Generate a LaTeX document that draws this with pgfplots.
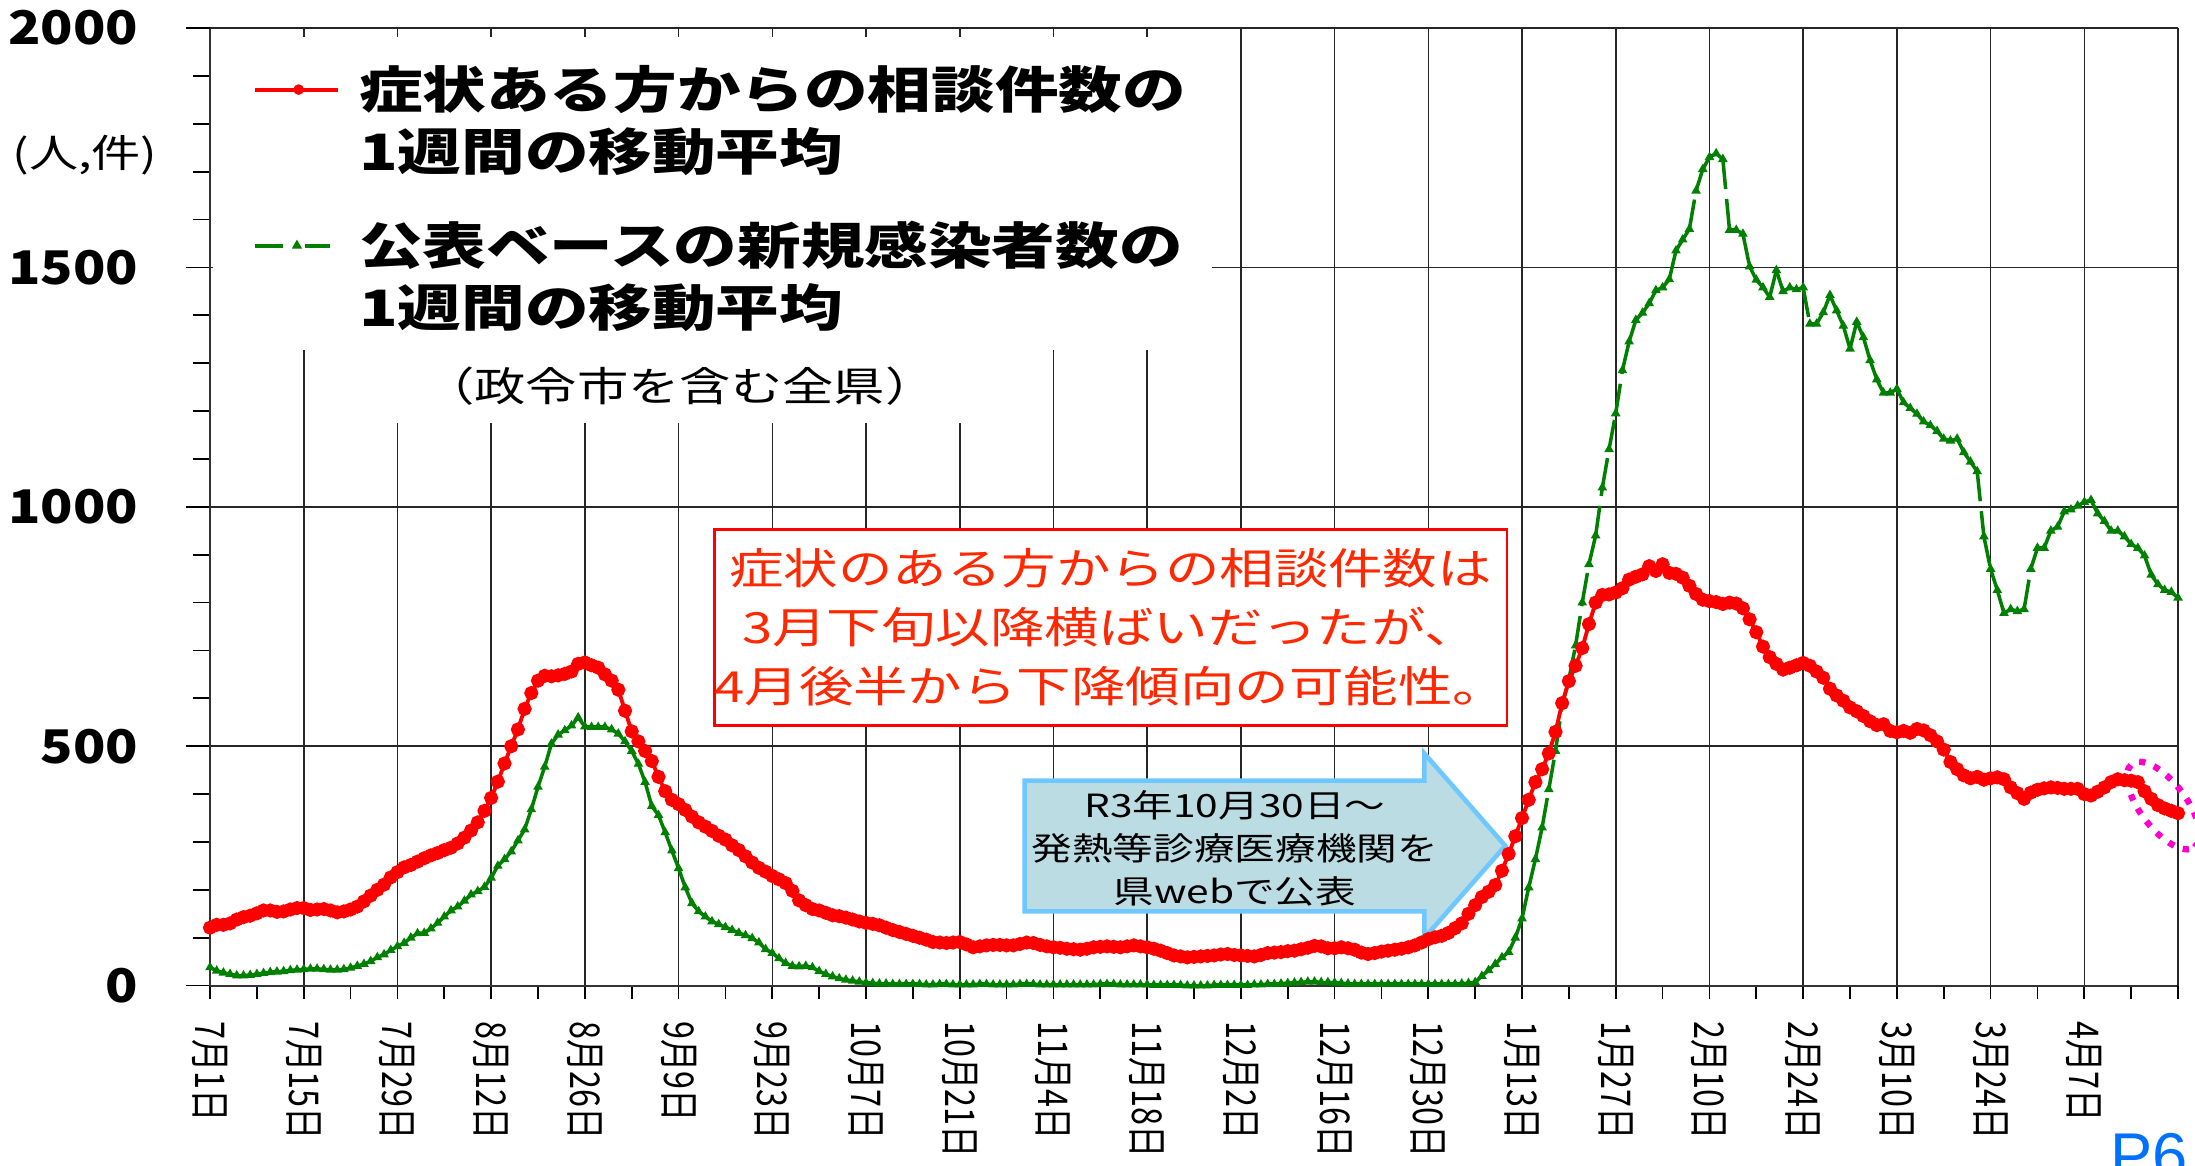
\documentclass[border=0pt]{standalone}
\usepackage{fontspec}
\usepackage{pgfplots}
\usepackage{pgfplotstable}
\pgfplotsset{compat=1.18}
\setmainfont[FakeStretch=1.27]{Noto Sans CJK JP}
\newfontfamily\jpn{Noto Sans CJK JP}
\newfontfamily\jpnum[FakeStretch=1.15]{Noto Sans CJK JP}
\newfontfamily\lat{Liberation Sans}
\definecolor{exred}{RGB}{255,0,0}
\definecolor{exgreen}{RGB}{0,128,0}
\definecolor{annred}{RGB}{255,40,0}
\definecolor{arrfill}{RGB}{186,220,226}
\definecolor{arrline}{RGB}{110,200,255}
\definecolor{mag}{RGB}{255,0,204}
\definecolor{pblue}{RGB}{0,112,255}

\pgfplotstableread{
x y
0 121
1 127
2 127
3 130
4 138
5 143
6 146
7 151
8 157
9 157
10 154
11 155
12 159
13 162
14 162
15 158
16 159
17 160
18 157
19 153
20 155
21 159
22 165
23 176
24 188
25 200
26 211
27 226
28 237
29 247
30 252
31 259
32 266
33 272
34 277
35 283
36 288
37 297
38 309
39 324
40 341
41 365
42 392
43 426
44 464
45 500
46 535
47 578
48 611
49 637
50 647
51 646
52 648
53 651
54 656
55 672
56 675
57 669
58 664
59 650
60 637
61 618
62 574
63 531
64 510
65 490
66 469
67 436
68 406
69 388
70 379
71 367
72 353
73 341
74 332
75 323
76 313
77 305
78 293
79 283
80 270
81 257
82 246
83 238
84 229
85 222
86 214
87 198
88 178
89 168
90 160
91 157
92 152
93 147
94 145
95 142
96 138
97 134
98 131
99 129
100 126
101 121
102 116
103 112
104 108
105 104
106 100
107 96
108 91
109 90
110 89
111 90
112 91
113 86
114 80
115 82
116 84
117 85
118 85
119 84
120 84
121 87
122 90
123 89
124 85
125 82
126 80
127 79
128 77
129 76
130 75
131 77
132 80
133 81
134 82
135 81
136 80
137 82
138 84
139 82
140 80
141 77
142 73
143 68
144 63
145 61
146 59
147 60
148 61
149 62
150 63
151 65
152 66
153 64
154 63
155 62
156 61
157 64
158 68
159 69
160 70
161 72
162 73
163 76
164 79
165 83
166 82
167 78
168 78
169 80
170 78
171 75
172 69
173 66
174 68
175 71
176 73
177 75
178 77
179 80
180 84
181 90
182 97
183 101
184 104
185 110
186 120
187 130
188 150
189 168
190 185
191 196
192 210
193 240
194 275
195 312
196 350
197 388
198 425
199 452
200 485
201 530
202 590
203 636
204 668
205 705
206 755
207 800
208 816
209 817
210 821
211 830
212 848
213 854
214 859
215 876
216 866
217 880
218 862
219 860
220 852
221 835
222 818
223 806
224 803
225 801
226 797
227 800
228 798
229 788
230 765
231 738
232 708
233 686
234 672
235 660
236 664
237 669
238 674
239 668
240 656
241 643
242 620
243 606
244 595
245 581
246 573
247 563
248 552
249 544
250 546
251 532
252 529
253 532
254 528
255 536
256 533
257 523
258 510
259 493
260 467
261 452
262 439
263 433
264 436
265 430
266 433
267 435
268 431
269 414
270 402
271 390
272 403
273 409
274 412
275 414
276 413
277 411
278 411
279 411
280 400
281 397
282 405
283 414
284 425
285 431
286 429
287 428
288 425
289 406
290 390
291 377
292 370
293 365
294 360
}\redtab

\pgfplotstableread{
x y
0 38
1 31
2 27
3 24
4 21
5 21
6 22
7 24
8 26
9 28
10 29
11 30
12 32
13 33
14 34
15 35
16 35
17 34
18 33
19 33
20 34
21 37
22 41
23 45
24 51
25 59
26 65
27 74
28 82
29 89
30 100
31 109
32 110
33 119
34 131
35 144
36 157
37 165
38 177
39 190
40 197
41 206
42 225
43 250
44 264
45 280
46 303
47 326
48 368
49 415
50 457
51 505
52 524
53 533
54 543
55 560
56 541
57 540
58 540
59 540
60 535
61 526
62 510
63 490
64 463
65 425
66 375
67 356
68 320
69 282
70 245
71 205
72 172
73 155
74 144
75 134
76 128
77 122
78 116
79 110
80 105
81 99
82 90
83 76
84 68
85 57
86 47
87 41
88 40
89 41
90 38
91 30
92 24
93 19
94 15
95 12
96 10
97 8
98 6
99 5
100 4
101 4
102 3
103 3
104 3
105 3
106 3
107 2
108 2
109 3
110 3
111 2
112 2
113 2
114 2
115 3
116 3
117 2
118 2
119 2
120 2
121 3
122 3
123 3
124 2
125 2
126 2
127 2
128 2
129 2
130 2
131 2
132 2
133 3
134 3
135 3
136 2
137 2
138 2
139 2
140 2
141 1
142 1
143 1
144 1
145 1
146 0
147 0
148 0
149 0
150 1
151 1
152 1
153 1
154 1
155 1
156 2
157 2
158 3
159 3
160 4
161 5
162 6
163 7
164 8
165 8
166 7
167 7
168 6
169 5
170 4
171 3
172 3
173 3
174 3
175 3
176 3
177 3
178 3
179 3
180 3
181 3
182 3
183 3
184 3
185 3
186 3
187 4
188 5
189 7
190 20
191 32
192 45
193 59
194 70
195 100
196 140
197 205
198 264
199 330
200 410
201 490
202 585
203 640
204 710
205 800
206 880
207 940
208 1040
209 1120
210 1195
211 1285
212 1345
213 1390
214 1405
215 1425
216 1452
217 1458
218 1475
219 1535
220 1558
221 1580
222 1660
223 1705
224 1730
225 1738
226 1726
227 1578
228 1578
229 1570
230 1502
231 1474
232 1458
233 1438
234 1494
235 1450
236 1458
237 1454
238 1458
239 1382
240 1382
241 1406
242 1442
243 1410
244 1378
245 1330
246 1386
247 1354
248 1306
249 1266
250 1238
251 1238
252 1246
253 1218
254 1206
255 1194
256 1178
257 1170
258 1158
259 1142
260 1138
261 1142
262 1114
263 1094
264 1074
265 938
266 870
267 826
268 778
269 786
270 782
271 786
272 870
273 914
274 914
275 950
276 958
277 990
278 994
279 1002
280 1010
281 1014
282 986
283 970
284 950
285 950
286 938
287 922
288 914
289 898
290 858
291 838
292 826
293 822
294 810
}\greentab
\pgfplotstablecreatecol[create col/expr={\nextrow{x}-\thisrow{x}}]{u}{\greentab}
\pgfplotstablecreatecol[create col/expr={\nextrow{y}-\thisrow{y}}]{v}{\greentab}

\begin{document}
\begin{tikzpicture}
\useasboundingbox (0,0) rectangle (21.95cm,11.65cm);
\begin{axis}[
  at={(2.1cm,1.794cm)}, anchor=south west,
  scale only axis, width=19.68cm, height=9.576cm,
  xmin=0, xmax=294, ymin=0, ymax=2000,
  clip=false,
  axis x line*=bottom, axis y line*=left,
  axis line style={black!80, line width=0.6pt, -},
  xtick={0,14,...,280},
  xticklabels={7月1日,7月15日,7月29日,8月12日,8月26日,9月9日,9月23日,10月7日,10月21日,11月4日,11月18日,12月2日,12月16日,12月30日,1月13日,1月27日,2月10日,2月24日,3月10日,3月24日,4月7日},
  minor xtick={7,21,...,287},
  extra x ticks={294}, extra x tick labels={},
  extra x tick style={grid style={black!45, line width=0.6pt}},
  ytick={0,500,1000,1500},
  extra y ticks={2000},
  extra y tick style={grid style={black!40, line width=1pt}},
  minor ytick={100,200,...,1900},
  grid=major,
  major grid style={black!85, line width=0.45pt},
  tick align=outside,
  xtick style={/pgfplots/major tick length=0.13cm, /pgfplots/minor tick length=0.13cm, black, line width=0.5pt},
  ytick style={/pgfplots/major tick length=0.24cm, /pgfplots/minor tick length=0.17cm, black, line width=0.5pt},
  minor tick style={black, line width=0.5pt},
  /pgf/number format/assume math mode=true,
  /pgf/number format/1000 sep={},
  yticklabel style={font=\jpnum\bfseries\fontsize{13.2}{14}\selectfont, inner sep=0pt, anchor=east},
  yticklabel shift=0.56cm,
  xticklabel style={font=\jpn\fontsize{9.2}{10}\selectfont, rotate=-90, yscale=1.27, anchor=west, inner sep=0pt},
  xticklabel shift=0.2cm,
  legend style={at={(axis description cs:0.02206,0.9636)}, anchor=north west,
    draw=none, fill=none, inner sep=0pt, outer sep=0pt, row sep=0pt, column sep=0pt,
    nodes={inner sep=0pt, anchor=base west, text depth=},
    font=\bfseries\fontsize{14.25}{14.25}\selectfont},
]
\addplot[exgreen, line width=1pt, dash pattern=on 0.3cm off 0.1cm, no markers,
  quiver={u=\thisrow{u}, v=\thisrow{v}}, skip coords between index={294}{295}, forget plot]
  table[x=x, y=y] {\greentab};
\addplot[exgreen, only marks, mark=triangle*, mark size=1.2pt, forget plot] table[x=x, y=y] {\greentab};
\addplot[exred, line width=1.1pt, mark=*, mark size=1.45pt, forget plot] table[x=x, y=y] {\redtab};

% white areas behind legend text
\fill[white] (axis cs:0.5,1982) rectangle (axis cs:149.7,1327);
\fill[white] (axis cs:20.9,1327) rectangle (axis cs:119.4,1175);
\node[font=\fontsize{11.5}{12}\selectfont, inner sep=0pt] at (axis cs:70.2,1251) {（政令市を含む全県）};

% annotation box
\node[draw=exred, line width=0.8pt, fill=white, minimum width=7.91cm, minimum height=1.96cm,
  align=center, text=annred, font=\fontsize{12.2}{16.7}\selectfont, inner sep=0pt]
  at (axis cs:134.55,748.5) {症状のある方からの相談件数は\\3月下旬以降横ばいだったが、\\4月後半から下降傾向の可能性。};

% arrow
\filldraw[fill=arrfill, draw=arrline, line width=1.3pt, line join=miter]
  (axis cs:121.7,428) -- (axis cs:181.4,428) -- (axis cs:181.4,485) -- (axis cs:193.5,292)
  -- (axis cs:181.4,99.4) -- (axis cs:181.4,155) -- (axis cs:121.7,155) -- cycle;
\node[align=center, font=\fontsize{9.1}{12.3}\selectfont, inner sep=0pt] at (axis cs:153.1,287)
  {R3年10月30日～\\発熱等診療医療機関を\\県webで公表};

% dotted ellipse
\draw[mag, line width=1.8pt, dash pattern=on 1.8pt off 2.6pt, rotate around={-53:(axis cs:291.8,376)}]
  (axis cs:291.8,376) ellipse [x radius=0.52cm, y radius=0.23cm];

\addlegendimage{legend image code/.code={
  \draw[exred, line width=1.1pt] (0cm,5.4pt) -- (0.826cm,5.4pt);
  \draw[exred, mark=*, mark size=1.3pt] plot coordinates {(0.433cm,5.4pt)};
  \path (1.03cm,0pt);}}
\addlegendentry{\rule[-4.5pt]{0pt}{17.5pt}症状ある方からの相談件数の}
\addlegendimage{empty legend}
\addlegendentry{\rule[-13.9pt]{0pt}{26.9pt}1週間の移動平均}
\addlegendimage{legend image code/.code={
  \draw[exgreen, line width=1.1pt] (0cm,5.4pt) -- (0.273cm,5.4pt);
  \draw[exgreen, line width=1.1pt] (0.497cm,5.4pt) -- (0.75cm,5.4pt);
  \draw[exgreen, mark=triangle*, mark size=1.3pt] plot coordinates {(0.416cm,5.4pt)};
  \path (1.03cm,0pt);}}
\addlegendentry{\rule[-4.5pt]{0pt}{17.5pt}公表ベースの新規感染者数の}
\addlegendimage{empty legend}
\addlegendentry{\rule[-4.5pt]{0pt}{17.5pt}1週間の移動平均}
\end{axis}
\node[font=\fontsize{11}{12}\selectfont, inner sep=0pt] at (0.85cm,10.10cm) {(人,件)};
\node[anchor=base west, inner sep=0pt, text=pblue, font=\lat\fontsize{18}{18}\selectfont] at (21.1cm,-0.12cm) {P6};
\end{tikzpicture}
\end{document}
